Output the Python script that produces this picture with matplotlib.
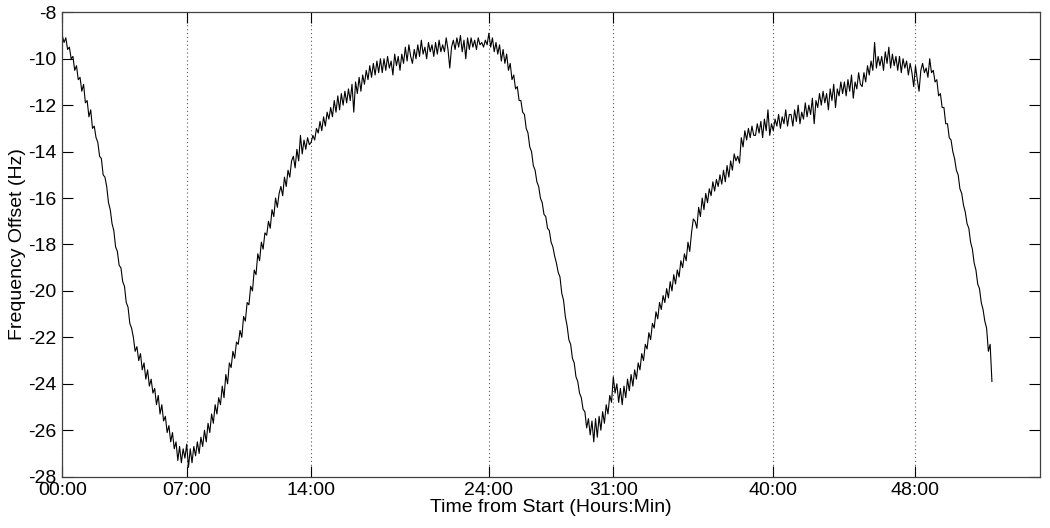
import numpy as np
import matplotlib
matplotlib.use('Agg')
import matplotlib.pyplot as plt

# frequency offset (Hz), one row per hour, sampled every 6 minutes
offset_rows = [
    [-9.0, -9.3, -9.1, -9.6, -9.5, -10.0, -9.9, -10.5, -10.3, -10.9],
    [-10.8, -11.4, -11.1, -11.9, -11.8, -12.5, -12.2, -13.0, -12.9, -13.4],
    [-13.6, -14.2, -14.3, -15.0, -15.1, -15.5, -16.2, -16.5, -17.1, -17.4],
    [-18.1, -18.3, -18.9, -19.0, -19.6, -19.8, -20.5, -20.7, -21.4, -21.6],
    [-22.0, -22.6, -22.4, -23.0, -22.7, -23.4, -23.1, -23.8, -23.4, -24.1],
    [-23.8, -24.4, -24.2, -24.9, -24.5, -25.3, -24.9, -25.6, -25.4, -26.1],
    [-25.8, -26.5, -26.1, -26.8, -26.5, -27.3, -26.7, -27.4, -26.8, -27.2],
    [-26.6, -27.6, -26.8, -27.4, -26.7, -27.1, -26.5, -27.0, -26.3, -26.7],
    [-26.0, -26.5, -25.7, -26.1, -25.3, -25.7, -24.9, -25.3, -24.6, -24.9],
    [-24.1, -24.6, -23.6, -24.0, -23.1, -23.3, -22.6, -22.9, -22.2, -22.3],
    [-21.7, -22.0, -21.1, -21.3, -20.5, -20.6, -19.8, -20.0, -19.1, -19.3],
    [-18.4, -18.7, -17.9, -18.2, -17.5, -17.6, -17.0, -17.3, -16.5, -16.8],
    [-16.0, -16.4, -15.8, -15.5, -15.9, -15.1, -15.5, -14.8, -15.1, -14.4],
    [-14.2, -14.7, -13.9, -14.4, -13.3, -14.1, -13.5, -13.9, -13.4, -13.7],
    [-13.6, -13.3, -13.5, -13.0, -13.2, -12.7, -13.1, -12.5, -12.9, -12.3],
    [-12.6, -12.1, -12.5, -11.8, -12.3, -11.6, -12.2, -11.5, -12.0, -11.4],
    [-11.9, -11.3, -11.8, -11.1, -12.3, -11.0, -11.5, -10.8, -11.4, -10.7],
    [-11.1, -10.5, -10.9, -10.3, -10.8, -10.2, -10.7, -10.1, -10.6, -10.0],
    [-10.6, -10.0, -10.5, -9.9, -10.4, -10.1, -10.7, -9.8, -10.3, -9.9],
    [-10.5, -9.8, -10.2, -9.5, -10.1, -9.4, -9.9, -10.2, -9.6, -10.0],
    [-9.4, -9.9, -9.2, -9.8, -9.5, -10.0, -9.3, -9.7, -9.4, -9.9],
    [-9.3, -9.8, -9.2, -9.7, -9.4, -9.7, -9.1, -9.6, -10.4, -9.5],
    [-9.2, -9.6, -9.1, -9.5, -9.0, -9.7, -9.2, -10.0, -9.1, -9.6],
    [-9.1, -9.5, -9.2, -9.6, -9.1, -9.4, -9.3, -9.5, -9.2, -9.4],
    [-8.9, -9.5, -9.1, -9.7, -9.3, -9.8, -9.4, -10.1, -9.6, -10.2],
    [-9.8, -10.5, -10.2, -10.9, -10.7, -11.3, -11.2, -11.8, -11.8, -12.3],
    [-12.4, -13.0, -13.2, -13.8, -14.0, -14.6, -14.8, -15.3, -15.5, -16.0],
    [-16.2, -16.7, -16.8, -17.3, -17.4, -17.9, -18.1, -18.5, -18.8, -19.2],
    [-19.4, -20.1, -20.4, -21.1, -21.5, -22.1, -22.3, -22.9, -23.1, -23.7],
    [-23.9, -24.4, -24.6, -25.1, -25.2, -25.9, -25.5, -26.2, -25.6, -26.5],
    [-25.5, -26.3, -25.4, -26.0, -25.2, -25.7, -24.9, -25.3, -24.5, -24.8],
    [-23.7, -24.4, -24.0, -24.8, -24.2, -24.9, -24.1, -24.6, -23.8, -24.3],
    [-23.6, -24.1, -23.4, -23.8, -23.1, -23.4, -22.7, -23.0, -22.3, -22.5],
    [-21.8, -22.1, -21.4, -21.6, -20.9, -21.2, -20.5, -20.8, -20.2, -20.5],
    [-19.9, -20.3, -19.6, -20.0, -19.3, -19.7, -19.1, -19.4, -18.7, -19.0],
    [-18.4, -18.7, -17.9, -18.3, -17.5, -16.9, -17.0, -17.3, -16.4, -16.8],
    [-16.0, -16.5, -15.8, -16.2, -15.6, -15.9, -15.3, -15.7, -15.2, -15.5],
    [-15.0, -15.4, -14.8, -15.3, -14.6, -15.1, -14.4, -14.8, -14.1, -14.4],
    [-14.2, -14.5, -13.4, -13.8, -13.1, -13.5, -13.0, -13.4, -12.9, -13.3],
    [-13.3, -12.8, -13.2, -12.7, -13.4, -12.6, -13.1, -12.2, -13.3, -12.8],
    [-13.1, -12.6, -12.9, -12.4, -13.0, -12.5, -12.8, -12.2, -12.9, -12.4],
    [-12.4, -12.9, -12.2, -12.7, -12.0, -12.8, -12.3, -12.6, -11.9, -12.5],
    [-12.0, -12.4, -11.7, -12.8, -11.8, -12.1, -11.5, -12.0, -11.4, -11.9],
    [-11.5, -12.2, -11.3, -11.8, -11.1, -12.1, -11.3, -11.6, -11.0, -11.5],
    [-11.0, -11.6, -10.9, -11.4, -10.7, -11.7, -11.0, -11.3, -10.6, -11.1],
    [-11.2, -10.6, -11.0, -10.3, -10.7, -10.1, -10.5, -9.3, -10.4, -9.9],
    [-10.3, -9.9, -10.5, -9.7, -10.2, -9.5, -10.4, -9.8, -10.3, -9.9],
    [-10.5, -9.9, -10.6, -10.0, -10.4, -10.1, -10.7, -10.2, -10.6, -11.2],
    [-10.3, -10.9, -11.4, -10.5, -10.2, -10.6, -10.4, -10.8, -10.0, -10.6],
    [-10.5, -11.0, -10.9, -11.6, -11.5, -12.1, -12.1, -12.8, -12.8, -13.4],
    [-13.5, -14.0, -14.3, -14.8, -15.0, -15.6, -15.8, -16.3, -16.6, -17.1],
    [-17.3, -17.9, -18.2, -18.8, -19.1, -19.7, -19.9, -20.5, -20.8, -21.3],
    [-21.6, -22.6, -22.3, -23.9],
]
sample_step_h = 0.1

tick_hours = [0, 7, 14, 24, 31, 40, 48]
tick_labels = ['00:00', '07:00', '14:00', '24:00', '31:00', '40:00', '48:00']
y_ticks = list(range(-28, -7, 2))

offset = np.concatenate([np.array(r) for r in offset_rows])
hours = np.arange(len(offset)) * sample_step_h

plt.rcParams['font.family'] = ['Liberation Sans', 'DejaVu Sans']
plt.rcParams['axes.unicode_minus'] = False

fig = plt.figure(figsize=(10.5, 5.28), dpi=100)
ax = fig.add_axes([0.0593, 0.0972, 0.9311, 0.8795])

ax.plot(hours, offset, color='black', linewidth=0.8)

ax.set_xlim(0, 55)
ax.set_ylim(-28, -8)
ax.set_xticks(tick_hours)
ax.set_xticklabels(tick_labels)
ax.set_yticks(y_ticks)

for h in tick_hours:
    ax.axvline(h, color='0.35', linestyle=(0, (1, 2.5)), linewidth=0.8, zorder=0)

ax.tick_params(direction='in', length=8, width=0.8, top=True, right=True,
               labelsize=14, pad=4, colors='black')
for s in ax.spines.values():
    s.set_color('0.25')
    s.set_linewidth(0.9)

ax.set_xlabel('Time from Start (Hours:Min)', fontsize=14, labelpad=0)
ax.set_ylabel('Frequency Offset (Hz)', fontsize=14, labelpad=2)

plt.savefig('out.png', dpi=100)
